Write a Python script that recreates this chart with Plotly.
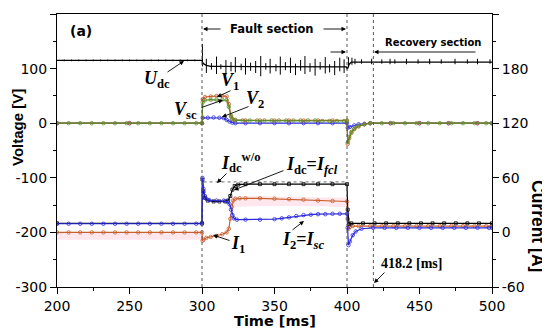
import plotly.graph_objects as go

# ---------------- data ----------------
# DC voltage U_dc [V] baseline
udc_t = [200, 300, 300.3, 301, 303, 306, 310, 350, 399.5, 400.3, 401.5, 403, 500]
udc_v = [115, 115, 112, 109, 106, 104, 104, 103.5, 103, 99, 108, 112, 112]
# spikes on U_dc (time, top, bottom) [V]
spk_t = [205, 210, 215, 220, 225, 230, 235, 240, 245, 250, 255, 260, 265, 270, 275, 280, 285, 290, 295,
         300.3, 303, 306.5, 310, 313, 316.5, 320, 323, 327, 330, 333.5, 337, 340.5, 344, 347, 351, 354,
         357.5, 361, 364.5, 368, 371, 374.5, 378, 381.5, 385, 388, 391.5, 395, 398,
         401, 403.4, 405.5, 410, 417, 424, 429.7, 433, 441, 449, 457, 465, 474.5, 483, 490, 498.6]
spk_hi = [116.5, 116.5, 116.5, 116.5, 116.5, 116.5, 116.5, 116.5, 116.5, 116.5, 116.5, 116.5, 116.5,
          116.5, 116.5, 116.5, 116.5, 116.5, 116.5,
          145, 118, 110, 122, 108, 116, 112, 121, 109, 119, 111, 114, 123, 110, 118, 108, 122,
          112, 120, 109, 116, 123, 110, 118, 112, 121, 108, 114, 120, 117,
          121, 120, 118, 117, 118, 117, 118, 117, 118, 117, 118, 117, 118, 117, 118, 117]
spk_lo = [113.5, 113.5, 113.5, 113.5, 113.5, 113.5, 113.5, 113.5, 113.5, 113.5, 113.5, 113.5, 113.5,
          113.5, 113.5, 113.5, 113.5, 113.5, 113.5,
          104, 92, 98, 90, 99, 88, 95, 93, 97, 89, 96, 92, 86, 98, 91, 95, 89,
          97, 92, 88, 96, 90, 94, 87, 98, 91, 93, 88, 95, 92,
          104, 107, 108, 109, 108, 109, 108, 109, 108, 109, 108, 109, 108, 109, 108, 109]

# V_sc (green) [V]
vsc_t = [200, 208, 216, 224, 232, 240, 248, 256, 264, 272, 280, 288, 296, 300,
         300.5, 302, 306, 310, 314, 317, 318.5, 320, 321, 323, 328, 333, 338, 343, 348, 353, 358, 363,
         368, 373, 378, 383, 388, 393, 398, 400,
         400.5, 401.5, 403, 405, 408, 412, 416, 424, 432, 440, 448, 456, 464, 472, 480, 488, 496, 500]
vsc_v = [0, 0, 0, 0, 0, 0, 0, 0, 0, 0, 0, 0, 0, 0,
         38, 42, 43, 43, 43, 42, 30, 12, 7, 5, 5, 5, 5, 5, 5, 5, 5, 5,
         5, 5, 5, 4, 4, 4, 4, 4,
         -35, -25, -16, -10, -5, -2, 0, 0, 0, 0, 0, 0, 0, 0, 0, 0, 0, 0]
# V_1 (orange) [V]
v1_t = [200, 250, 300, 300.5, 302, 306, 310, 314, 317, 318.5, 320, 321, 323, 330, 340, 350, 360, 370,
        380, 390, 400, 400.5, 401.5, 403, 405, 408, 412, 416, 430, 450, 470, 490, 500]
v1_v = [0, 0, 0, 44, 48, 49, 50, 50, 49, 35, 14, 8, 6, 5, 5, 5, 5, 5,
        5, 5, 5, -38, -28, -18, -11, -6, -2, 0, 0, 0, 0, 0, 0]
# V_2 (blue) [V]
v2_t = [200, 250, 300, 300.5, 304, 308, 312, 315, 317, 319, 321, 323, 330, 340, 350, 360, 370, 380,
        390, 400, 400.5, 402, 405, 408, 412, 416, 430, 450, 470, 490, 500]
v2_v = [0, 0, 0, 10, 10, 10.5, 10, 9.5, 6, 3, 1, 0, 0, 0, 0, 0, 0, 0,
        0, 0, -8, -7, -4, -2, -1, 0, 0, 0, 0, 0, 0]

# currents [A] (right axis)
iwo_t = [300, 300.4, 302, 400]
iwo_v = [10, 55, 55.5, 55.5]

idc_t = [200, 300, 300.3, 301, 302, 304, 308, 312, 316, 318, 319.5, 321, 322.5, 325, 330, 340, 350, 360,
         370, 380, 390, 400, 400.5, 401.5, 403, 411, 419, 427, 435, 443, 451, 459, 467, 475, 483, 491, 500]
idc_v = [10, 10, 58, 45, 38, 35, 34, 34, 34, 35, 40, 47, 51, 52.5, 53, 53, 53, 53,
         53, 53, 53, 53, 25, 9, 10, 10, 10, 10, 10, 10, 10, 10, 10, 10, 10, 10, 10]

i2_t = [200, 208, 216, 224, 232, 240, 248, 256, 264, 272, 280, 288, 296, 300,
        300.3, 301, 302, 303, 305, 310, 315, 317, 319, 320, 321, 322, 324, 330, 340, 350, 355, 360,
        365, 370, 375, 380, 385, 390, 395, 400,
        400.4, 401, 402, 404, 406, 410, 418, 426, 434, 442, 450, 458, 466, 474, 482, 490, 498, 500]
i2_v = [9.5, 9.5, 9.5, 9.5, 9.5, 9.5, 9.5, 9.5, 9.5, 9.5, 9.5, 9.5, 9.5, 9.5,
        60, 48, 40, 37, 35.5, 35, 35, 34, 31, 25, 19, 15.5, 14, 14, 14, 14.5, 15.5, 16.5,
        18, 19, 19.5, 20, 20, 20.5, 20.5, 20.5,
        5, -14, -10, -3, 1, 4, 5, 5, 5, 5, 5, 5, 5, 5, 5, 5, 5, 5]

i1_t = [200, 208, 216, 224, 232, 240, 248, 256, 264, 272, 280, 288, 296, 300,
        300.4, 301, 303, 306, 310, 314, 317, 318.5, 319.5, 320.5, 321.5, 323, 326, 330, 340, 350, 360,
        370, 380, 390, 400,
        400.4, 401, 402, 404, 408, 416, 424, 432, 440, 448, 456, 464, 472, 480, 488, 496, 500]
i1_v = [0, 0, 0, 0, 0, 0, 0, 0, 0, 0, 0, 0, 0, 0,
        -9, -8, -6, -5, -4, -2, 0, 4, 15, 28, 35, 37, 37.5, 37.5, 37.5, 37, 36.5,
        36, 35, 34.5, 34,
        15, 4, 6, 7, 7, 7, 7, 7, 7, 7, 7, 7, 7, 7, 7, 7, 7]

# faint pink band around I_1 [A]
band1_t = [200, 300]
band1_lo = [-8, -8]
band1_hi = [0, 0]
band2_t = [320, 340, 370, 400]
band2_lo = [28, 29, 29, 28]
band2_hi = [39, 40, 39, 38]

volt_ticks = [-300, -200, -100, 0, 100, 200]
volt_labels = ["-300", "-200", "-100", "0", "100", "200"]
curr_ticks = [-60, 0, 60, 120, 180, 240]
curr_labels = ["-60", "0", "60", "120", "180", "240"]
time_ticks = [200, 250, 300, 350, 400, 450, 500]
section_lines = [300, 400, 418.2]

# ---------------- figure ----------------
ORANGE = "#c8602e"
GREEN = "#5e8f2c"
BLUE = "#2b2bdc"
fig = go.Figure()

# pink bands (right axis)
for bt, blo, bhi in [(band1_t, band1_lo, band1_hi), (band2_t, band2_lo, band2_hi)]:
    fig.add_trace(go.Scatter(x=bt + bt[::-1], y=bhi + blo[::-1], fill="toself", mode="none",
                             fillcolor="rgba(255,170,190,0.28)", yaxis="y2", hoverinfo="skip"))

# currents
fig.add_trace(go.Scatter(x=iwo_t, y=iwo_v, mode="lines", yaxis="y2",
                         line=dict(color="#8a8a8a", width=1.2, dash="dot")))
fig.add_trace(go.Scatter(x=i1_t, y=i1_v, mode="lines+markers", yaxis="y2",
                         line=dict(color=ORANGE, width=1.2),
                         marker=dict(symbol="circle-open", size=3.5, color=ORANGE, line=dict(width=0.8))))
fig.add_trace(go.Scatter(x=idc_t, y=idc_v, mode="lines+markers", yaxis="y2",
                         line=dict(color="black", width=1.2),
                         marker=dict(symbol="square-open", size=3, color="black", line=dict(width=0.8))))
fig.add_trace(go.Scatter(x=i2_t, y=i2_v, mode="lines+markers", yaxis="y2",
                         line=dict(color=BLUE, width=1.2),
                         marker=dict(symbol="circle-open", size=3.5, color=BLUE, line=dict(width=0.8))))

# voltages
sx, sy = [], []
for t, hi, lo in zip(spk_t, spk_hi, spk_lo):
    sx += [t, t, None]
    sy += [lo, hi, None]
fig.add_trace(go.Scatter(x=sx, y=sy, mode="lines", line=dict(color="black", width=1)))
fig.add_trace(go.Scatter(x=udc_t, y=udc_v, mode="lines", line=dict(color="black", width=1.3)))
fig.add_trace(go.Scatter(x=v2_t, y=v2_v, mode="lines+markers", line=dict(color=BLUE, width=1.2),
                         marker=dict(symbol="circle-open", size=3.5, color=BLUE, line=dict(width=0.8))))
fig.add_trace(go.Scatter(x=v1_t, y=v1_v, mode="lines+markers", line=dict(color=ORANGE, width=1.2),
                         marker=dict(symbol="circle-open", size=3.5, color=ORANGE, line=dict(width=0.8))))
fig.add_trace(go.Scatter(x=vsc_t, y=vsc_v, mode="lines+markers", line=dict(color=GREEN, width=1.2),
                         marker=dict(symbol="circle-open", size=3.5, color=GREEN, line=dict(width=0.8))))

# section lines
for xv in section_lines:
    fig.add_shape(type="line", x0=xv, x1=xv, y0=0, y1=1, xref="x", yref="paper",
                  line=dict(color="#555555", width=1, dash="dot"))

# ---------------- annotations (page pixel positions -> data) ----------------
def X(px):
    return 200 + (px - 57) / 1.45


def Y(py):
    return (123.2 - py) / 0.546


SANS_B = "DejaVu Sans"
SERIF = "Liberation Serif"
anns = []


def text(px, py, s, size, family, angle=0):
    anns.append(dict(x=X(px), y=Y(py), xref="x", yref="y", text=s, showarrow=False,
                     xanchor="center", yanchor="middle", textangle=angle,
                     font=dict(family=family, size=size, color="black")))


def arrow(tx, ty, hx, hy):
    anns.append(dict(x=X(hx), y=Y(hy), ax=X(tx), ay=Y(ty), xref="x", yref="y", axref="x", ayref="y",
                     text="", showarrow=True, arrowhead=2, arrowsize=1, arrowwidth=0.9,
                     arrowcolor="black", standoff=0, startstandoff=0))


text(81, 31, "<b>(a)</b>", 14, SANS_B)
text(271.5, 29, "<b>Fault section</b>", 11.5, SANS_B)
text(432.5, 42, "<b>Recovery section</b>", 10, SANS_B)
arrow(222, 29, 203, 29)
arrow(322, 29, 346, 29)
arrow(329, 52, 346, 52)
arrow(477, 52, 374, 52)

text(157, 79, "<b><i>U</i><sub>dc</sub></b>", 18, SERIF)
arrow(166, 73, 184, 61)
text(230, 81, "<b><i>V</i><sub>1</sub></b>", 18, SERIF)
arrow(232, 90, 217, 97)
text(185, 110, "<b><i>V</i><sub>sc</sub></b>", 18, SERIF)
arrow(200, 108, 223, 100)
text(255, 99, "<b><i>V</i><sub>2</sub></b>", 18, SERIF)
arrow(250, 106, 222, 117)
text(241, 162, "<b><i>I</i><sub>dc</sub><sup>w/o</sup></b>", 18, SERIF)
arrow(228, 172, 217, 183)
text(312, 165, "<b><i>I</i><sub>dc</sub>=<i>I</i><sub><i>fcl</i></sub></b>", 18, SERIF)
arrow(285, 170, 234, 190)
text(238, 244, "<b><i>I</i><sub>1</sub></b>", 18, SERIF)
arrow(231, 241, 213, 235)
text(303, 240, "<b><i>I</i><sub>2</sub>=<i>I</i><sub><i>sc</i></sub></b>", 18, SERIF)
arrow(291, 231, 304, 221)
text(411, 263, "<b>418.2 [ms]</b>", 14, SERIF)
arrow(386, 271, 374, 283)

# The page body has an 8 px margin, so the figure is made 8 px smaller and the
# plot area is placed so that on the page it spans x 57..492, y 14..287.
OFF = 8
FW, FH = 550 - OFF, 336 - OFF
PL, PR, PT, PB = 57, 492, 14, 287           # plot area in page pixels
L, T = PL - OFF, PT - OFF
R, B = FW - (PR - OFF), FH - (PB - OFF)
PW, PH = PR - PL, PB - PT


def page(px, py):
    return (px - PL) / PW, 1 - (py - PT) / PH


for (px, py, s, fam, size, ang) in [(275, 321, "<b>Time [ms]</b>", "DejaVu Sans", 14.5, 0),
                                    (17, 128, "<b>Voltage [V]</b>", "Liberation Sans", 15, -90),
                                    (538, 226, "<b>Current [A]</b>", "Liberation Sans", 17.5, 90)]:
    fx, fy = page(px, py)
    anns.append(dict(x=fx, y=fy, xref="paper", yref="paper", text=s, showarrow=False,
                     xanchor="center", yanchor="middle", textangle=ang,
                     font=dict(family=fam, size=size, color="black")))

tickfont = dict(family="DejaVu Sans", size=14, color="black")
fig.update_layout(
    width=FW, height=FH, autosize=False,
    margin=dict(l=L, r=R, t=T, b=B, pad=0, autoexpand=False),
    paper_bgcolor="white", plot_bgcolor="white",
    showlegend=False,
    annotations=anns,
    xaxis=dict(range=[200, 500], tickmode="array", tickvals=time_ticks, automargin=False,
               ticks="outside", ticklen=6, tickwidth=1, tickcolor="black",
               showline=True, linecolor="black", linewidth=1, mirror=True,
               showgrid=False, zeroline=False, tickfont=tickfont,
               minor=dict(tickmode="linear", tick0=225, dtick=50, ticks="outside", ticklen=3,
                          tickcolor="black", showgrid=False)),
    yaxis=dict(range=[-300, 200], tickmode="array", tickvals=volt_ticks, ticktext=volt_labels,
               automargin=False,
               ticks="outside", ticklen=6, tickwidth=1, tickcolor="black",
               showline=True, linecolor="black", linewidth=1, mirror=False,
               showgrid=False, zeroline=False, tickfont=tickfont,
               minor=dict(tickmode="linear", tick0=-250, dtick=100, ticks="outside", ticklen=3,
                          tickcolor="black", showgrid=False)),
    yaxis2=dict(range=[-60, 240], overlaying="y", side="right", tickmode="array",
                tickvals=curr_ticks, ticktext=curr_labels, automargin=False,
                ticks="outside", ticklen=6, tickwidth=1, tickcolor="black",
                showline=True, linecolor="black", linewidth=1,
                showgrid=False, zeroline=False, tickfont=tickfont,
                minor=dict(tickmode="linear", tick0=-30, dtick=60, ticks="outside", ticklen=3,
                           tickcolor="black", showgrid=False)),
)

fig.write_html("out.html")
